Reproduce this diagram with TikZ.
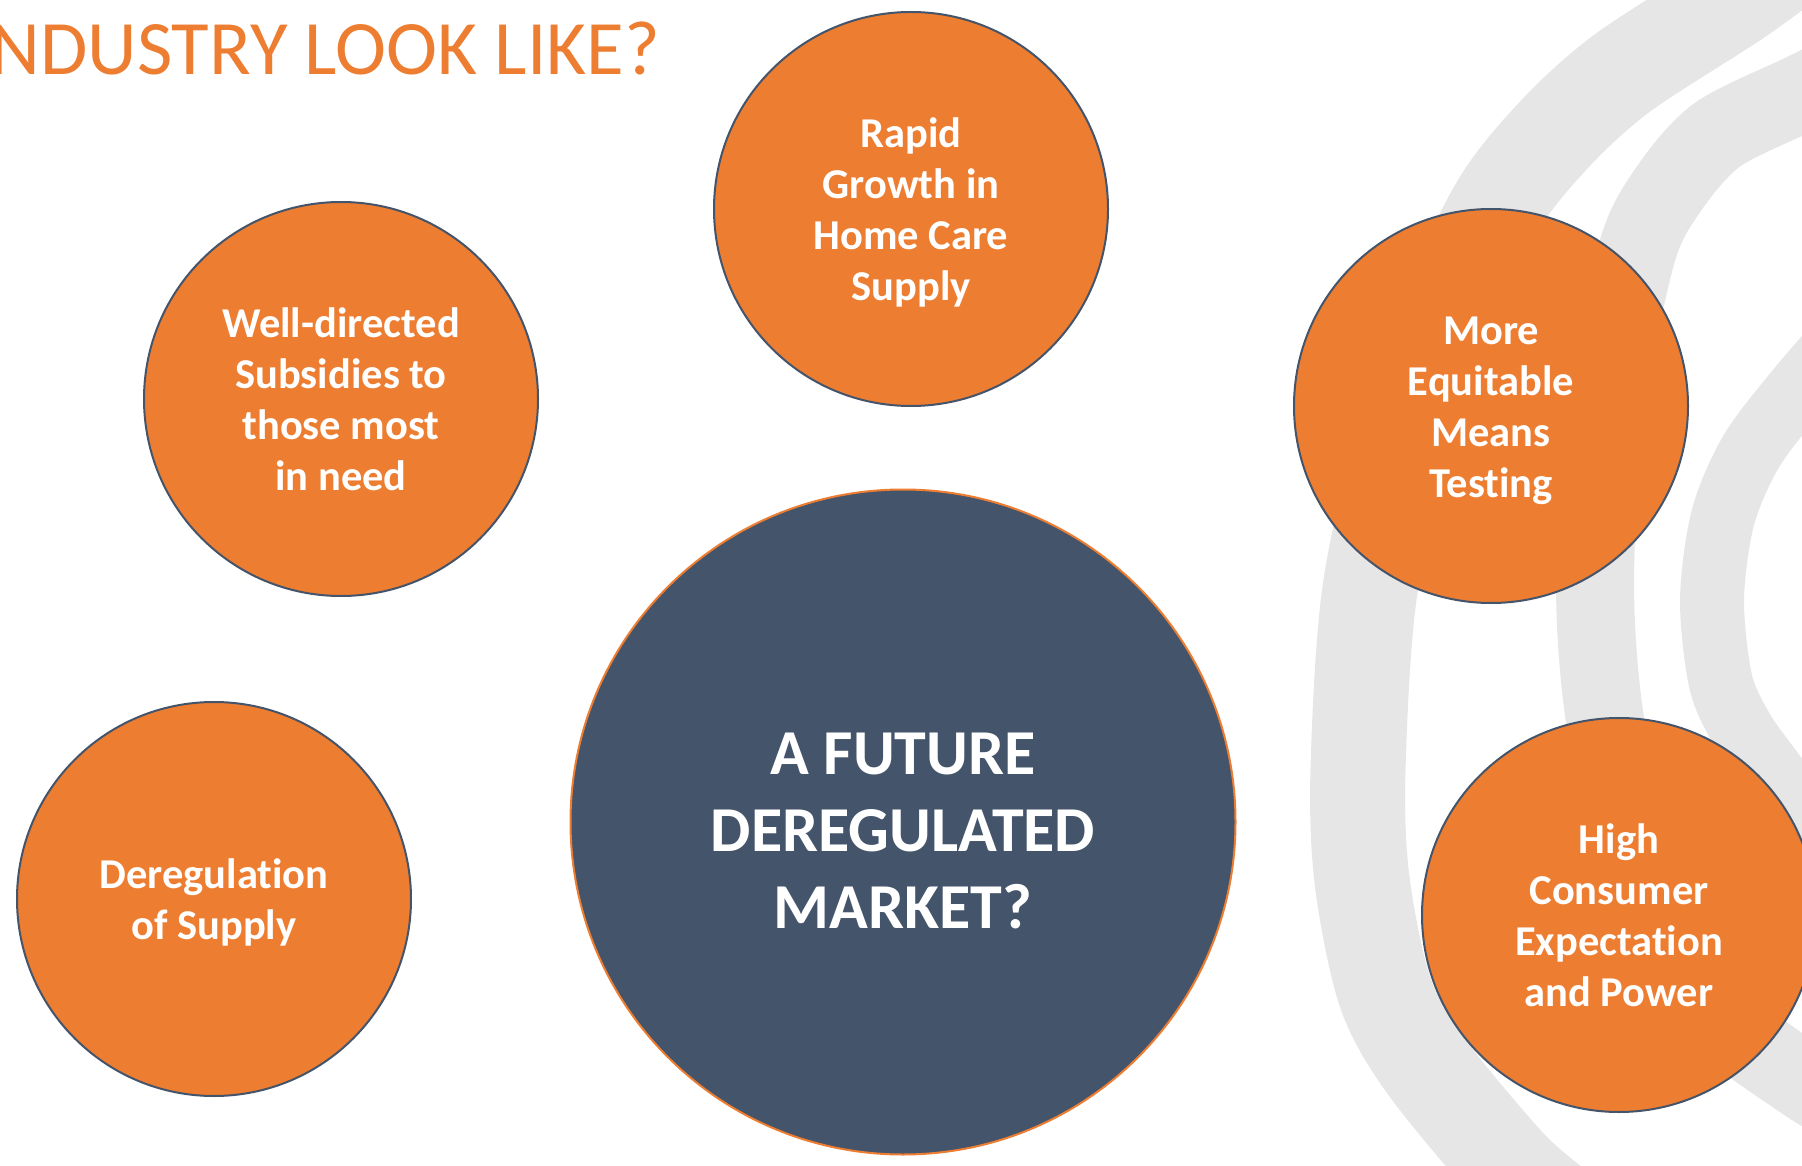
\documentclass[tikz,border=0pt]{standalone}
\usepackage{fontspec}
\setmainfont{Carlito}[Ligatures=NoCommon]
\definecolor{accent}{HTML}{ED7D31}
\definecolor{slate}{HTML}{44546A}
\definecolor{swirl}{HTML}{E6E6E6}
\newcommand{\bubtop}{\rule{0pt}{40pt}}
\newcommand{\hubtop}{\rule{0pt}{59pt}}
\begin{document}
\begin{tikzpicture}[x=1pt, y=-1pt,
  swirlband/.style={draw=swirl, line cap=butt},
  bubble/.style={circle, minimum size=394pt, inner sep=0pt, fill=accent, draw=slate,
    line width=2pt, text=white, align=center, font=\fontsize{42.5}{51}\selectfont\bfseries,
    execute at end node={\rule[-10pt]{0pt}{10pt}}},
  hub/.style={circle, minimum size=665pt, inner sep=0pt, fill=slate, draw=accent,
    line width=2pt, text=white, align=center, font=\fontsize{64}{77}\selectfont\bfseries}]
  \useasboundingbox (0,0) rectangle (1802,1166);
  \clip (0,0) rectangle (1802,1166);
  \draw[swirlband, line width=95pt] plot[smooth] coordinates {(1790,-40) (1735,0) (1621,74)
    (1551,138) (1492,216) (1420,380) (1371,583) (1358,769) (1362,880) (1385,992) (1426,1066)
    (1509,1166) (1560,1210)};
  \draw[swirlband, line width=78pt] plot[smooth] coordinates {(1880,55) (1802,93) (1717,135)
    (1668,190) (1637,252) (1605,409) (1595,583) (1605,720) (1640,880) (1700,1000) (1802,1080)
    (1880,1125)};
  \draw[swirlband, line width=64pt] plot[smooth] coordinates {(1850,330) (1802,385) (1752,450)
    (1723,517) (1712,600) (1721,683) (1744,733) (1780,783) (1802,822) (1850,880)};
  \node[hub] (market) at (903,822) {\hubtop A FUTURE\\DEREGULATED\\MARKET?};
  \node[bubble] (growth) at (911,209) {\bubtop Rapid\\Growth in\\Home Care\\Supply};
  \node[bubble] (subsidies) at (341,399) {\bubtop Well-directed\\Subsidies to\\those most\\in need};
  \node[bubble] (equity) at (1491,406) {\bubtop More\\Equitable\\Means\\Testing};
  \node[bubble] (dereg) at (214,899) {\bubtop Deregulation\\of Supply};
  \node[bubble] (consumer) at (1619,915) {\bubtop High\\Consumer\\Expectation\\and Power};
  \node[anchor=base west, text=accent, font=\fontsize{77}{90}\selectfont] (heading) at (-13,75)
    {NDUSTRY LOOK LIKE?};
\end{tikzpicture}
\end{document}
